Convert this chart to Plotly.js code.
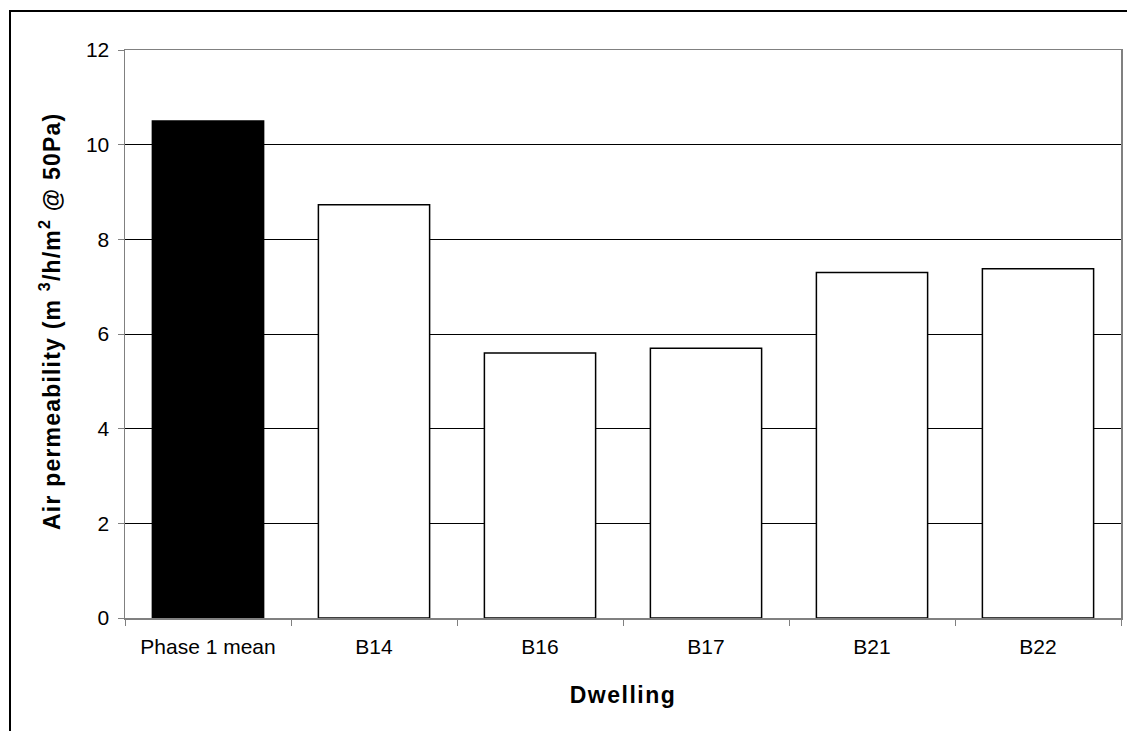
<!DOCTYPE html>
<html>
<head>
<meta charset="utf-8">
<script src="https://cdn.plot.ly/plotly-3.0.1.min.js"></script>
<style>
  html, body { margin: 0; padding: 0; background: #fff; overflow: hidden; }
  #wrap { position: relative; width: 1127px; height: 731px; }
  #chart { width: 1127px; height: 731px; }
  #frame { position: absolute; left: 9px; top: 10px; width: 1200px; height: 800px;
           border: 2px solid #000; pointer-events: none; }
  .xtitle { letter-spacing: 1.5px; }
  .annotation-text { letter-spacing: 1.2px; }
</style>
</head>
<body>
<div id="wrap">
  <div id="chart"></div>
  <div id="frame"></div>
</div>
<script>
const categories = ["Phase 1 mean", "B14", "B16", "B17", "B21", "B22"];
const values = [10.5, 8.73, 5.6, 5.7, 7.3, 7.38];
const barColors = ["#000000", "#ffffff", "#ffffff", "#ffffff", "#ffffff", "#ffffff"];
const yTicks = [0, 2, 4, 6, 8, 10, 12];
const xTitle = "Dwelling";
const yTitle = "Air permeability (m <sup>3</sup>/h/m<sup>2</sup> @ 50Pa)";

const font = "Liberation Sans, Arial, sans-serif";

const trace = {
  type: "bar",
  x: categories,
  y: values,
  marker: { color: barColors, line: { color: "#000000", width: 1.5 } },
  hoverinfo: "x+y"
};

const layout = {
  width: 1127,
  height: 731,
  margin: { l: 125, r: 6, t: 50, b: 113 },
  paper_bgcolor: "#ffffff",
  plot_bgcolor: "#ffffff",
  bargap: 0.33,
  showlegend: false,
  font: { family: font, color: "#000000", size: 21 },
  xaxis: {
    type: "category",
    tickson: "boundaries",
    ticks: "outside",
    ticklen: 6,
    tickcolor: "#808080",
    tickwidth: 1,
    showline: true,
    linecolor: "#808080",
    linewidth: 1.5,
    mirror: true,
    showgrid: false,
    ticklabelstandoff: 9,
    tickfont: { family: font, size: 21, color: "#000000" },
    title: { text: xTitle, font: { family: font, size: 23, color: "#000000", weight: "bold" }, standoff: 30 }
  },
  yaxis: {
    range: [0, 12],
    tickvals: yTicks,
    ticktext: yTicks.map(String),
    ticks: "outside",
    ticklen: 6,
    tickcolor: "#808080",
    showline: true,
    linecolor: "#808080",
    linewidth: 1.5,
    mirror: true,
    showgrid: true,
    gridcolor: "#000000",
    gridwidth: 1,
    zeroline: false,
    ticklabelstandoff: 4,
    tickfont: { family: font, size: 21, color: "#000000" }
  },
  annotations: [{
    text: yTitle,
    xref: "paper", yref: "paper",
    x: 0, y: 0.5,
    xanchor: "center", yanchor: "middle",
    xshift: -75, yshift: 12,
    textangle: -90,
    showarrow: false,
    font: { family: font, size: 23, color: "#000000", weight: "bold" }
  }]
};

Plotly.newPlot("chart", [trace], layout, { staticPlot: true, displayModeBar: false });
</script>
</body>
</html>
